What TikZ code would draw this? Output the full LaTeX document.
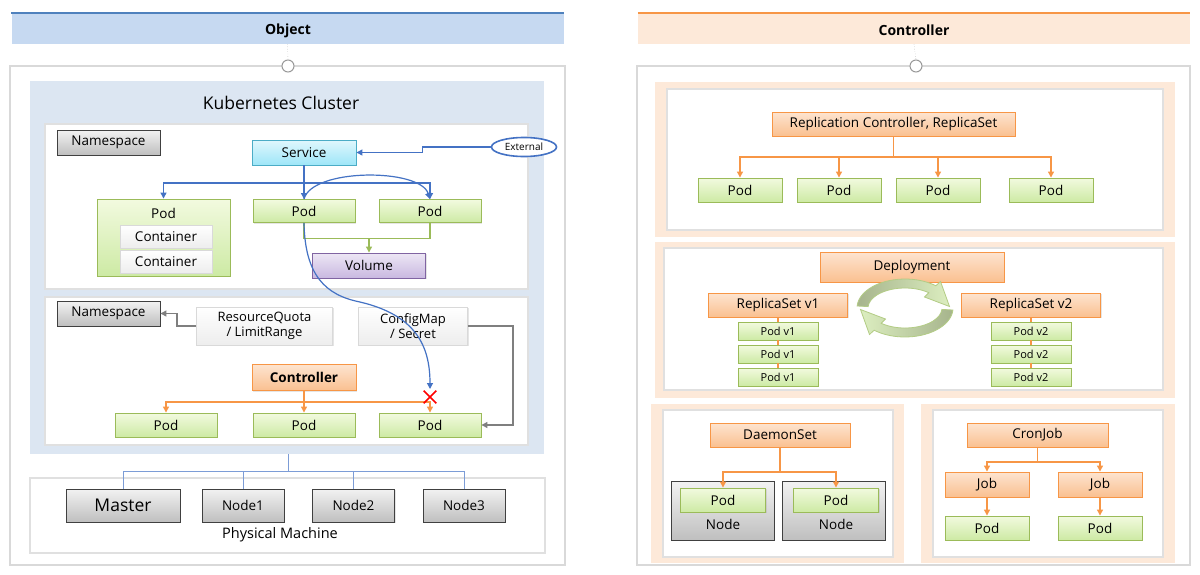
\documentclass[tikz,border=0pt]{standalone}
\usepackage{fontspec}
\setmainfont{Open Sans}
\usetikzlibrary{arrows.meta,shadows,shapes.geometric,shapes.misc}

\definecolor{objtop}{HTML}{4F81BD}
\definecolor{objfill}{HTML}{C6D9F1}
\definecolor{ctlfill}{HTML}{FDE9D9}
\definecolor{clusterfill}{HTML}{DCE6F2}
\definecolor{framegray}{HTML}{D9D9D9}
\definecolor{podedge}{HTML}{9BBB59}
\definecolor{podtop}{HTML}{F2FADF}
\definecolor{podbot}{HTML}{CDEAA4}
\definecolor{orgedge}{HTML}{F79646}
\definecolor{orgtop}{HTML}{FDE4D0}
\definecolor{orgbot}{HTML}{FAC090}
\definecolor{svcedge}{HTML}{4BACC6}
\definecolor{svctop}{HTML}{E0F7FD}
\definecolor{svcbot}{HTML}{9EE6F8}
\definecolor{voledge}{HTML}{8064A2}
\definecolor{voltop}{HTML}{EDE7F5}
\definecolor{volbot}{HTML}{C9B8E0}
\definecolor{grytop}{HTML}{F2F2F2}
\definecolor{grybot}{HTML}{BFBFBF}
\definecolor{linkblue}{HTML}{4472C4}
\definecolor{linkgreen}{HTML}{9BBB59}
\definecolor{linkgray}{HTML}{7F7F7F}
\definecolor{cyclelight}{HTML}{DCEEC0}
\definecolor{cycledark}{HTML}{A6B48C}
\definecolor{cycleedge}{HTML}{B3CC85}

\tikzset{
	boxshadow/.style={drop shadow={shadow xshift=1.2pt, shadow yshift=-1.2pt, opacity=0.2}},
	block/.style={rectangle, inner sep=0pt, line width=0.9pt, font=\fontsize{13.5}{15}\selectfont, boxshadow},
	podbox/.style={block, draw=podedge, top color=podtop, bottom color=podbot},
	orangebox/.style={block, draw=orgedge, top color=orgtop, bottom color=orgbot},
	graybox/.style={block, draw=black!75, top color=grytop, bottom color=grybot},
	paperbox/.style={block, draw=framegray, top color=white, bottom color=black!7},
	servicebox/.style={block, draw=svcedge, top color=svctop, bottom color=svcbot},
	volumebox/.style={block, draw=voledge, top color=voltop, bottom color=volbot},
	headbar/.style={rectangle, inner sep=0pt, minimum width=552pt, minimum height=31pt, font=\fontsize{14}{16}\selectfont\bfseries},
	knob/.style={circle, draw=black!40, fill=white, line width=1pt, minimum size=12pt, inner sep=0pt},
	panel/.style={draw=framegray, line width=2pt, fill=white},
	nsframe/.style={draw=black!12, line width=1.5pt, fill=white},
	bluelink/.style={draw=linkblue, line width=1.2pt},
	greenlink/.style={draw=linkgreen, line width=1.2pt},
	graylink/.style={draw=linkgray, line width=1.2pt},
	orangelink/.style={draw=orgedge, line width=1.2pt},
	pointer/.style={-{Triangle[length=6pt,width=6pt]}},
	plain/.style={inner sep=0pt, font=\fontsize{13.5}{15}\selectfont},
	cyclearrow/.style={draw=cycleedge, line width=0.8pt},
}

\begin{document}
\begin{tikzpicture}[x=1pt,y=-1pt]
	\useasboundingbox (0,0) rectangle (1200,574);

	\draw[panel] (10,66) rectangle (565,565);
	\draw[panel] (637,66) rectangle (1190,565);

	\node (objhead) at (287.5,28.5) [headbar, fill=objfill] {};
	\node (objtitle) at (288,30.5) [font=\fontsize{14}{16}\selectfont\bfseries, inner sep=0pt] {Object};
	\draw[objtop, line width=1.5pt] (objhead.north west) -- (objhead.north east);
	\node (objknob) at (288,66) [knob] {};
	\draw[dotted, black!40] (objhead.south) -- (objknob.north);

	\node (ctlhead) at (914,28.5) [headbar, fill=ctlfill] {};
	\node (ctltitle) at (914,30.5) [font=\fontsize{14}{16}\selectfont\bfseries, inner sep=0pt] {Controller};
	\draw[orgedge, line width=1.5pt] (ctlhead.north west) -- (ctlhead.north east);
	\node (ctlknob) at (916,66) [knob] {};
	\draw[dotted, black!40] (ctlhead.south) -- (ctlknob.north);

	\fill[clusterfill] (30,81) rectangle (544,454);
	\node (clustertitle) at (281,103) [plain, font=\fontsize{17.5}{20}\selectfont] {Kubernetes Cluster};
	\draw[nsframe] (45,124) rectangle (528,289);
	\draw[nsframe] (45,297) rectangle (528,445);

	\node (ns1) at (108.5,142.5) [graybox, minimum width=103pt, minimum height=25pt] {Namespace};
	\node (svc) at (304,152.5) [servicebox, minimum width=104pt, minimum height=25pt] {Service};
	\node (ext) at (524,147) [ellipse, draw=linkblue, line width=1.6pt, fill=white, minimum width=65pt, minimum height=19pt, inner sep=0pt, font=\fontsize{10}{12}\selectfont] {External};

	\node (bigpod) at (163.5,237.5) [podbox, minimum width=133pt, minimum height=77pt] {};
	\node (bigpodlabel) at (163.5,213) [plain] {Pod};
	\node (cont1) at (166,236.5) [paperbox, minimum width=92pt, minimum height=23pt] {Container};
	\node (cont2) at (166,261.5) [paperbox, minimum width=92pt, minimum height=23pt] {Container};
	\node (pod2) at (304,211) [podbox, minimum width=102pt, minimum height=23pt] {Pod};
	\node (pod3) at (430,211) [podbox, minimum width=102pt, minimum height=23pt] {Pod};
	\node (vol) at (369,265.5) [volumebox, minimum width=113pt, minimum height=25pt] {Volume};

	\draw[bluelink, pointer] (ext.west) -- ++(-68,0) |- (svc.east);
	\coordinate (svcbus) at (304,183);
	\draw[bluelink, pointer] (svc.south) -- (pod2.north);
	\draw[bluelink, pointer] (svcbus) -| (bigpod.north);
	\draw[bluelink, pointer] (svcbus) -| (pod3.north);
	\draw[bluelink, pointer] (pod2.north) .. controls (312,168) and (420,168) .. (pod3.north);

	\coordinate (volbus) at (369,238);
	\draw[greenlink] (pod2.south) -- ++(0,15.5) -| (pod3.south);
	\draw[greenlink, pointer] (volbus) -- (vol.north);

	\node (ns2) at (108.5,313.5) [graybox, minimum width=103pt, minimum height=25pt] {Namespace};
	\node (quota) at (264.5,326) [paperbox, minimum width=136pt, minimum height=38pt, align=center, font=\fontsize{13}{15.5}\selectfont] {ResourceQuota\\/ LimitRange};
	\node (cfg) at (413,326) [paperbox, minimum width=109pt, minimum height=38pt, align=center, font=\fontsize{13}{15.5}\selectfont] {ConfigMap\\/ Secret};
	\node (ctrl) at (304,377.5) [orangebox, minimum width=104pt, minimum height=26pt, font=\fontsize{13.5}{15}\selectfont\bfseries] {Controller};
	\node (pod4) at (166,425) [podbox, minimum width=102pt, minimum height=24pt] {Pod};
	\node (pod5) at (304,425) [podbox, minimum width=102pt, minimum height=24pt] {Pod};
	\node (pod6) at (430,425) [podbox, minimum width=102pt, minimum height=24pt] {Pod};

	\draw[graylink, pointer] (quota.west) -- ++(-19,0) |- (ns2.east);
	\draw[graylink, pointer] (cfg.east) -- ++(45,0) |- (pod6.east);

	\coordinate (ctrlbus) at (304,402);
	\draw[orangelink] (ctrl.south) -- (ctrlbus);
	\draw[orangelink, pointer] (ctrlbus) -| (pod4.north);
	\draw[orangelink, pointer] (ctrlbus) -- (pod5.north);
	\draw[orangelink, pointer] (ctrlbus) -| (pod6.north);

	\coordinate (blocked) at (430,389);
	\draw[bluelink, pointer] (pod2.south) .. controls (305,275) and (325,295) .. (360,302) .. controls (415,315) and (430,345) .. (blocked);
	\node (stop) at (430,397) [cross out, draw=red, line width=1.6pt, minimum size=11pt, inner sep=0pt] {};

	\draw[nsframe] (30,478) rectangle (545,553);
	\node (master) at (123,505.5) [graybox, minimum width=114pt, minimum height=33pt, font=\fontsize{17.5}{20}\selectfont] {Master};
	\node (host1) at (243,505.5) [graybox, minimum width=82pt, minimum height=33pt] {Node1};
	\node (host2) at (353.5,505.5) [graybox, minimum width=82pt, minimum height=33pt] {Node2};
	\node (host3) at (464,505.5) [graybox, minimum width=82pt, minimum height=33pt] {Node3};
	\node (machine) at (280,535) [plain, font=\fontsize{14.5}{16}\selectfont] {Physical Machine};

	\coordinate (clusterfoot) at (288,454);
	\coordinate (machbus) at (288,471);
	\draw[draw=linkblue!70, line width=1pt] (clusterfoot) -- (machbus);
	\draw[draw=linkblue!70, line width=1pt] (machbus) -| (master.north);
	\draw[draw=linkblue!70, line width=1pt] (machbus) -| (host1.north);
	\draw[draw=linkblue!70, line width=1pt] (machbus) -| (host2.north);
	\draw[draw=linkblue!70, line width=1pt] (machbus) -| (host3.north);

	\fill[ctlfill] (655,82) rectangle (1175,237);
	\draw[nsframe] (667,89) rectangle (1163,230);
	\node (rc) at (893.5,124) [orangebox, minimum width=243pt, minimum height=24pt] {Replication Controller, ReplicaSet};
	\node (rcpod1) at (740,190) [podbox, minimum width=84pt, minimum height=24pt] {Pod};
	\node (rcpod2) at (839,190) [podbox, minimum width=84pt, minimum height=24pt] {Pod};
	\node (rcpod3) at (938,190) [podbox, minimum width=84pt, minimum height=24pt] {Pod};
	\node (rcpod4) at (1051,190) [podbox, minimum width=84pt, minimum height=24pt] {Pod};
	\coordinate (rcbus) at (893.5,157);
	\draw[orangelink] (rc.south) -- (rcbus);
	\foreach \p in {rcpod1,rcpod2,rcpod3,rcpod4}
		\draw[orangelink, pointer] (rcbus) -| (\p.north);

	\fill[ctlfill] (655,242) rectangle (1175,398);
	\draw[nsframe] (664,248) rectangle (1163,390);
	\node (deploy) at (912,267) [orangebox, minimum width=184pt, minimum height=30pt] {Deployment};
	\node (rs1) at (778,305) [orangebox, minimum width=139pt, minimum height=24pt] {ReplicaSet v1};
	\node (rs2) at (1031,305) [orangebox, minimum width=139pt, minimum height=24pt] {ReplicaSet v2};
	\foreach \v/\x in {1/778,2/1031} {
		\node (pv\v a) at (\x,331) [podbox, minimum width=80pt, minimum height=18pt, font=\fontsize{11}{13}\selectfont] {Pod v\v};
		\node (pv\v b) at (\x,354) [podbox, minimum width=80pt, minimum height=18pt, font=\fontsize{11}{13}\selectfont] {Pod v\v};
		\node (pv\v c) at (\x,377) [podbox, minimum width=80pt, minimum height=18pt, font=\fontsize{11}{13}\selectfont] {Pod v\v};
		\draw[orangelink] (rs\v.south) -- (pv\v a.north);
		\draw[orangelink] (pv\v a.south) -- (pv\v b.north);
		\draw[orangelink] (pv\v b.south) -- (pv\v c.north);
	}
	\begin{scope}[shift={(905,308)}, y=1pt]
		\shade[cyclearrow, left color=cycledark, right color=cyclelight] (176:48 and 29) arc[start angle=176, end angle=50, x radius=48, y radius=29] -- (35.5,26.5) -- (44.5,1.5) -- (19.5,11) -- (50:37 and 20) arc[start angle=50, end angle=176, x radius=37, y radius=20] -- cycle;
		\shade[cyclearrow, left color=cyclelight, right color=cycledark] (-4:48 and 29) arc[start angle=-4, end angle=-130, x radius=48, y radius=29] -- (-35.5,-26.5) -- (-44.5,-1.5) -- (-19.5,-11) -- (-130:37 and 20) arc[start angle=-130, end angle=-4, x radius=37, y radius=20] -- cycle;
	\end{scope}

	\fill[ctlfill] (651,404) rectangle (904,563);
	\draw[nsframe] (663,410) rectangle (893,557);
	\node (ds) at (780,435) [orangebox, minimum width=140pt, minimum height=24pt] {DaemonSet};
	\node (dshost1) at (722.5,510.5) [graybox, minimum width=103pt, minimum height=59pt] {};
	\node (dshost2) at (833.5,510.5) [graybox, minimum width=103pt, minimum height=59pt] {};
	\node (dshost1label) at (723,524) [plain] {Node};
	\node (dshost2label) at (836,524) [plain] {Node};
	\node (dspod1) at (723,500) [podbox, minimum width=85pt, minimum height=24pt] {Pod};
	\node (dspod2) at (836,500) [podbox, minimum width=85pt, minimum height=24pt] {Pod};
	\coordinate (dsbus) at (780,472);
	\draw[orangelink] (ds.south) -- (dsbus);
	\draw[orangelink, pointer] (dsbus) -| (dspod1.north);
	\draw[orangelink, pointer] (dsbus) -| (dspod2.north);

	\fill[ctlfill] (921,404) rectangle (1175,563);
	\draw[nsframe] (933,410) rectangle (1163,557);
	\node (cron) at (1037.5,435) [orangebox, minimum width=141pt, minimum height=24pt] {CronJob};
	\node (job1) at (987,484.5) [orangebox, minimum width=84pt, minimum height=25pt] {Job};
	\node (job2) at (1100,484.5) [orangebox, minimum width=84pt, minimum height=25pt] {Job};
	\node (jobpod1) at (987,528) [podbox, minimum width=84pt, minimum height=24pt] {Pod};
	\node (jobpod2) at (1100,528) [podbox, minimum width=84pt, minimum height=24pt] {Pod};
	\coordinate (cronbus) at (1037.5,462);
	\draw[orangelink] (cron.south) -- (cronbus);
	\draw[orangelink, pointer] (cronbus) -| (job1.north);
	\draw[orangelink, pointer] (cronbus) -| (job2.north);
	\draw[orangelink, pointer] (job1.south) -- (jobpod1.north);
	\draw[orangelink, pointer] (job2.south) -- (jobpod2.north);
\end{tikzpicture}
\end{document}
